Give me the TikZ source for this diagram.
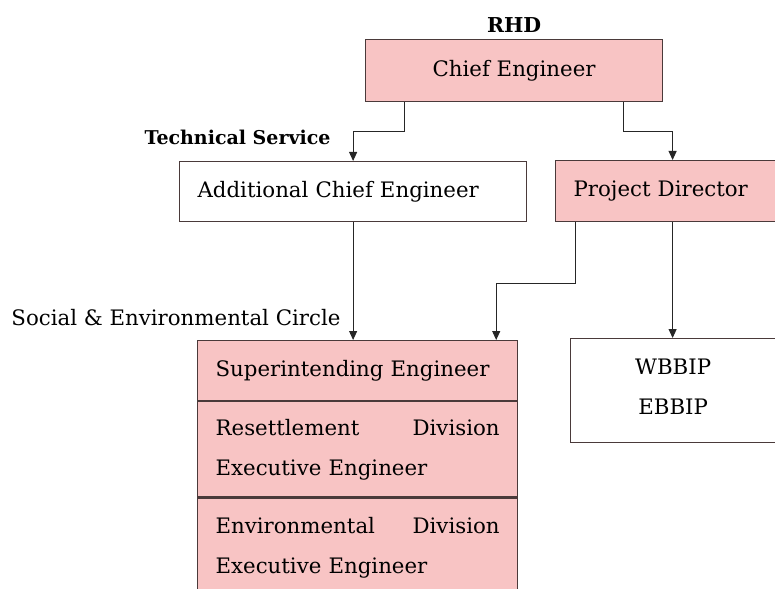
\documentclass[tikz,border=0pt]{standalone}
\usepackage{fontspec}
\setmainfont{DejaVu Serif}
\usepackage{tikz}
\usetikzlibrary{positioning,arrows.meta}
\definecolor{rolepink}{HTML}{F8C4C4}
\definecolor{edgegray}{HTML}{4A3A3A}

\begin{document}
\begin{tikzpicture}[
x=1pt, y=-1pt,
box/.style={draw=edgegray, line width=1.2pt, anchor=north west, inner ysep=0pt, inner xsep=18pt, align=left, font=\fontsize{21.3}{40}\selectfont},
pinkbox/.style={box, fill=rolepink},
arrow/.style={-{Triangle[length=9pt,width=8pt]}, line width=1pt, black!85},
tag/.style={font=\fontsize{21.3}{24}\selectfont}
]
\useasboundingbox (0,0) rectangle (775,588);
% top
\node[pinkbox, align=center, minimum width=297pt, minimum height=62pt] (chief) at (365,39) {Chief Engineer};
\node[tag, font=\fontsize{20.5}{24}\selectfont\bfseries, above=3pt of chief] (rhd) {RHD};
% second level
\node[box, text width=311pt, minimum height=60pt] (ace) at (179,161) {Additional Chief Engineer};
\node[pinkbox, text width=198pt, minimum height=61pt] (pd) at (555,160) {Project Director};
% circle stack
\node[pinkbox, text width=284pt, minimum height=60pt] (sup) at (197,340) {Superintending Engineer};
\node[pinkbox, text width=284pt, minimum height=95pt] (res) at (sup.south west) {Resettlement\hfill Division\\Executive Engineer};
\node[pinkbox, text width=284pt, minimum height=100pt] (env) at (res.south west) {Environmental\hfill Division\\Executive Engineer};
\node[box, align=center, minimum width=205pt, minimum height=104pt] (wb) at (570,338) {WBBIP\\EBBIP\\[-32pt]};
% labels
\node[tag, font=\fontsize{19}{22}\selectfont\bfseries, anchor=east] (tech) at (334,137) {Technical Service};
\node[tag, anchor=east] (circle) at (344,318) {Social \& Environmental Circle};
% links
\draw[arrow] (chief.south west) ++(39,0) -- ++(0,29) -| (ace.north);
\draw[arrow] (chief.south east) ++(-40,0) -- ++(0,29) -| (pd.north);
\draw[arrow] (ace.south) -- (ace.south |- sup.north);
\draw[arrow] ([xshift=20pt]pd.south west) -- ++(0,61) -| ([xshift=-22pt]sup.north east);
\draw[arrow] (pd.south) -- (pd.south |- wb.north);
\end{tikzpicture}
\end{document}
